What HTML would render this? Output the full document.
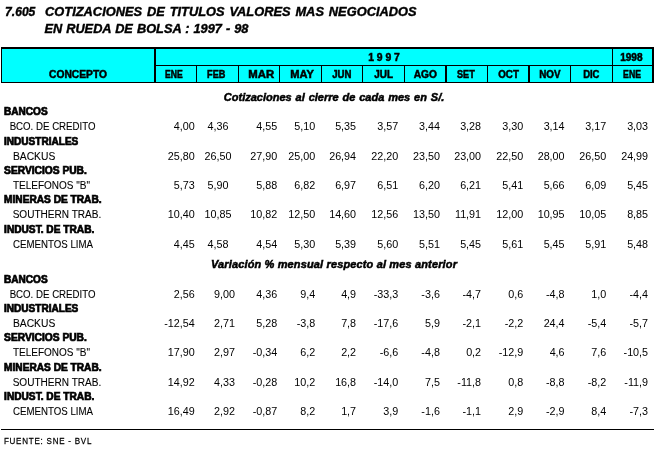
<!DOCTYPE html>
<html lang="es">
<head>
<meta charset="utf-8">
<title>7.605 Cotizaciones de titulos valores mas negociados en rueda de bolsa: 1997 - 98</title>
<style>
html,body{margin:0;padding:0;background:#fff;}
body{width:655px;height:450px;overflow:hidden;}
svg{display:block;}
text{font-family:"Liberation Sans",sans-serif;fill:#000;white-space:pre;stroke:#000;stroke-width:0;}
.b{font-weight:bold;stroke-width:0.7px;}
.t{stroke-width:0.4px;}
.h{stroke-width:0.5px;}
.c{stroke-width:0.5px;}
.f{stroke-width:0.25px;}
.r{stroke-width:0.1px;}
.i{font-style:italic;}
.n{font-size:11px;}
</style>
</head>
<body>
<svg width="655" height="450" viewBox="0 0 655 450">
<g shape-rendering="crispEdges">
<rect x="1" y="47" width="653" height="36" fill="#000"/>
<rect x="2" y="49" width="152" height="33" fill="#00ffff"/>
<rect x="156" y="49" width="456" height="16" fill="#00ffff"/>
<rect x="613" y="49" width="39" height="16" fill="#00ffff"/>
<rect x="156" y="66" width="40" height="16" fill="#00ffff"/>
<rect x="197" y="66" width="41" height="16" fill="#00ffff"/>
<rect x="239" y="66" width="40" height="16" fill="#00ffff"/>
<rect x="280" y="66" width="41" height="16" fill="#00ffff"/>
<rect x="322" y="66" width="40" height="16" fill="#00ffff"/>
<rect x="363" y="66" width="41" height="16" fill="#00ffff"/>
<rect x="405" y="66" width="40" height="16" fill="#00ffff"/>
<rect x="447" y="66" width="40" height="16" fill="#00ffff"/>
<rect x="488" y="66" width="40" height="16" fill="#00ffff"/>
<rect x="530" y="66" width="40" height="16" fill="#00ffff"/>
<rect x="571" y="66" width="41" height="16" fill="#00ffff"/>
<rect x="613" y="66" width="39" height="16" fill="#00ffff"/>
<rect x="1" y="429" width="653" height="1" fill="#000"/>
</g>
<g id="title">
<text class="b i t" font-size="12.709" transform="translate(5.09 15.8) scale(0.952 1)" xml:space="preserve">7.605</text>
<text class="b i t" font-size="12.709" word-spacing="1.3" transform="translate(45.102 15.8) scale(1.011 1)" xml:space="preserve">COTIZACIONES DE TITULOS VALORES MAS NEGOCIADOS</text>
<text class="b i t" font-size="12.709" word-spacing="0.5" transform="translate(44.401 32.8) scale(1.005 1)" xml:space="preserve">EN RUEDA DE BOLSA : 1997 - 98</text>
</g>
<g id="head">
<text class="b h" font-size="10.335" transform="translate(49.048 77.75) scale(0.993 1)" xml:space="preserve">CONCEPTO</text>
<text class="b h" font-size="10.335" transform="translate(368.15 60.75) scale(1.002 1)" xml:space="preserve">1 9 9 7</text>
<text class="b h" font-size="10.335" transform="translate(620.143 60.75) scale(0.973 1)" xml:space="preserve">1998</text>
<text class="b h" font-size="10.335" transform="translate(165.008 77.75) scale(0.833 1)" xml:space="preserve">ENE</text>
<text class="b h" font-size="10.335" transform="translate(207.121 77.75) scale(0.884 1)" xml:space="preserve">FEB</text>
<text class="b h" font-size="10.335" transform="translate(248.275 77.75) scale(1.099 1)" xml:space="preserve">MAR</text>
<text class="b h" font-size="10.335" transform="translate(290.269 77.75) scale(1.075 1)" xml:space="preserve">MAY</text>
<text class="b h" font-size="10.335" transform="translate(332.233 77.75) scale(0.932 1)" xml:space="preserve">JUN</text>
<text class="b h" font-size="10.335" transform="translate(374.241 77.75) scale(0.964 1)" xml:space="preserve">JUL</text>
<text class="b h" font-size="10.335" transform="translate(413.647 77.75) scale(0.988 1)" xml:space="preserve">AGO</text>
<text class="b h" font-size="10.335" transform="translate(457.021 77.75) scale(0.884 1)" xml:space="preserve">SET</text>
<text class="b h" font-size="10.335" transform="translate(498.237 77.75) scale(0.948 1)" xml:space="preserve">OCT</text>
<text class="b h" font-size="10.335" transform="translate(539.238 77.75) scale(0.952 1)" xml:space="preserve">NOV</text>
<text class="b h" font-size="10.335" transform="translate(583.13 77.75) scale(0.919 1)" xml:space="preserve">DIC</text>
<text class="b h" font-size="10.335" transform="translate(623.111 77.75) scale(0.842 1)" xml:space="preserve">ENE</text>
</g>
<g id="cap">
<text class="b i c" font-size="10.754" word-spacing="0.8" transform="translate(223.856 100.75) scale(1.024 1)" xml:space="preserve">Cotizaciones al cierre de cada mes en S/.</text>
<text class="b i c" font-size="10.754" letter-spacing="0.15" transform="translate(210.956 267.75) scale(1.022 1)" xml:space="preserve">Variación % mensual respecto al mes anterior</text>
</g>
<g id="s0g0">
<text class="b" font-size="10.056" transform="translate(4.05 114.65) scale(1.001 1)" xml:space="preserve">BANCOS</text>
</g>
<g id="s0r0">
<text class="r" font-size="11" transform="translate(9.644 129.95) scale(0.88 1)" xml:space="preserve">BCO. DE CREDITO</text>
<text class="n" transform="translate(173.734 130) scale(0.98 1)">4,00</text>
<text class="n" transform="translate(207.467 130) scale(0.98 1)">4,36</text>
<text class="n" transform="translate(256.334 130) scale(0.98 1)">4,55</text>
<text class="n" transform="translate(294.234 130) scale(0.98 1)">5,10</text>
<text class="n" transform="translate(335.134 130) scale(0.98 1)">5,35</text>
<text class="n" transform="translate(377.334 130) scale(0.98 1)">3,57</text>
<text class="n" transform="translate(418.934 130) scale(0.98 1)">3,44</text>
<text class="n" transform="translate(460.134 130) scale(0.98 1)">3,28</text>
<text class="n" transform="translate(502.334 130) scale(0.98 1)">3,30</text>
<text class="n" transform="translate(543.634 130) scale(0.98 1)">3,14</text>
<text class="n" transform="translate(585.234 130) scale(0.98 1)">3,17</text>
<text class="n" transform="translate(627.134 130) scale(0.98 1)">3,03</text>
</g>
<g id="s0g1">
<text class="b" font-size="10.056" transform="translate(4.05 144.65) scale(1 1)" xml:space="preserve">INDUSTRIALES</text>
</g>
<g id="s0r1">
<text class="r" font-size="11" transform="translate(12.947 159.95) scale(0.936 1)" xml:space="preserve">BACKUS</text>
<text class="n" transform="translate(167.739 160) scale(0.98 1)">25,80</text>
<text class="n" transform="translate(204.47 160) scale(0.98 1)">26,50</text>
<text class="n" transform="translate(250.339 160) scale(0.98 1)">27,90</text>
<text class="n" transform="translate(288.239 160) scale(0.98 1)">25,00</text>
<text class="n" transform="translate(329.139 160) scale(0.98 1)">26,94</text>
<text class="n" transform="translate(371.339 160) scale(0.98 1)">22,20</text>
<text class="n" transform="translate(412.939 160) scale(0.98 1)">23,50</text>
<text class="n" transform="translate(454.139 160) scale(0.98 1)">23,00</text>
<text class="n" transform="translate(496.339 160) scale(0.98 1)">22,50</text>
<text class="n" transform="translate(537.639 160) scale(0.98 1)">28,00</text>
<text class="n" transform="translate(579.239 160) scale(0.98 1)">26,50</text>
<text class="n" transform="translate(621.139 160) scale(0.98 1)">24,99</text>
</g>
<g id="s0g2">
<text class="b" font-size="10.056" transform="translate(4.056 173.65) scale(1.017 1)" xml:space="preserve">SERVICIOS PUB.</text>
</g>
<g id="s0r2">
<text class="r" font-size="11" transform="translate(12.946 188.95) scale(0.91 1)" xml:space="preserve">TELEFONOS "B"</text>
<text class="n" transform="translate(173.734 189) scale(0.98 1)">5,73</text>
<text class="n" transform="translate(207.467 189) scale(0.98 1)">5,90</text>
<text class="n" transform="translate(256.334 189) scale(0.98 1)">5,88</text>
<text class="n" transform="translate(294.234 189) scale(0.98 1)">6,82</text>
<text class="n" transform="translate(335.134 189) scale(0.98 1)">6,97</text>
<text class="n" transform="translate(377.334 189) scale(0.98 1)">6,51</text>
<text class="n" transform="translate(418.934 189) scale(0.98 1)">6,20</text>
<text class="n" transform="translate(460.134 189) scale(0.98 1)">6,21</text>
<text class="n" transform="translate(502.334 189) scale(0.98 1)">5,41</text>
<text class="n" transform="translate(543.634 189) scale(0.98 1)">5,66</text>
<text class="n" transform="translate(585.234 189) scale(0.98 1)">6,09</text>
<text class="n" transform="translate(627.134 189) scale(0.98 1)">5,45</text>
</g>
<g id="s0g3">
<text class="b" font-size="10.056" transform="translate(4.053 202.65) scale(1.01 1)" xml:space="preserve">MINERAS DE TRAB.</text>
</g>
<g id="s0r3">
<text class="r" font-size="11" transform="translate(12.646 217.95) scale(0.915 1)" xml:space="preserve">SOUTHERN TRAB.</text>
<text class="n" transform="translate(167.739 218) scale(0.98 1)">10,40</text>
<text class="n" transform="translate(204.47 218) scale(0.98 1)">10,85</text>
<text class="n" transform="translate(250.339 218) scale(0.98 1)">10,82</text>
<text class="n" transform="translate(288.239 218) scale(0.98 1)">12,50</text>
<text class="n" transform="translate(329.139 218) scale(0.98 1)">14,60</text>
<text class="n" transform="translate(371.339 218) scale(0.98 1)">12,56</text>
<text class="n" transform="translate(412.939 218) scale(0.98 1)">13,50</text>
<text class="n" transform="translate(454.939 218) scale(0.98 1)">11,91</text>
<text class="n" transform="translate(496.339 218) scale(0.98 1)">12,00</text>
<text class="n" transform="translate(537.639 218) scale(0.98 1)">10,95</text>
<text class="n" transform="translate(579.239 218) scale(0.98 1)">10,05</text>
<text class="n" transform="translate(627.134 218) scale(0.98 1)">8,85</text>
</g>
<g id="s0g4">
<text class="b" font-size="10.056" transform="translate(4.054 232.65) scale(1.012 1)" xml:space="preserve">INDUST. DE TRAB.</text>
</g>
<g id="s0r4">
<text class="r" font-size="11" transform="translate(12.944 247.95) scale(0.882 1)" xml:space="preserve">CEMENTOS LIMA</text>
<text class="n" transform="translate(173.734 248) scale(0.98 1)">4,45</text>
<text class="n" transform="translate(207.467 248) scale(0.98 1)">4,58</text>
<text class="n" transform="translate(256.334 248) scale(0.98 1)">4,54</text>
<text class="n" transform="translate(294.234 248) scale(0.98 1)">5,30</text>
<text class="n" transform="translate(335.134 248) scale(0.98 1)">5,39</text>
<text class="n" transform="translate(377.334 248) scale(0.98 1)">5,60</text>
<text class="n" transform="translate(418.934 248) scale(0.98 1)">5,51</text>
<text class="n" transform="translate(460.134 248) scale(0.98 1)">5,45</text>
<text class="n" transform="translate(502.334 248) scale(0.98 1)">5,61</text>
<text class="n" transform="translate(543.634 248) scale(0.98 1)">5,45</text>
<text class="n" transform="translate(585.234 248) scale(0.98 1)">5,91</text>
<text class="n" transform="translate(627.134 248) scale(0.98 1)">5,48</text>
</g>
<g id="s1g0">
<text class="b" font-size="10.056" transform="translate(4.05 282.65) scale(1.001 1)" xml:space="preserve">BANCOS</text>
</g>
<g id="s1r0">
<text class="r" font-size="11" transform="translate(9.644 297.95) scale(0.88 1)" xml:space="preserve">BCO. DE CREDITO</text>
<text class="n" transform="translate(173.734 298) scale(0.98 1)">2,56</text>
<text class="n" transform="translate(213.934 298) scale(0.98 1)">9,00</text>
<text class="n" transform="translate(256.334 298) scale(0.98 1)">4,36</text>
<text class="n" transform="translate(300.23 298) scale(0.98 1)">9,4</text>
<text class="n" transform="translate(341.13 298) scale(0.98 1)">4,9</text>
<text class="n" transform="translate(373.745 298) scale(0.98 1)">-33,3</text>
<text class="n" transform="translate(421.34 298) scale(0.98 1)">-3,6</text>
<text class="n" transform="translate(462.54 298) scale(0.98 1)">-4,7</text>
<text class="n" transform="translate(508.33 298) scale(0.98 1)">0,6</text>
<text class="n" transform="translate(546.04 298) scale(0.98 1)">-4,8</text>
<text class="n" transform="translate(591.23 298) scale(0.98 1)">1,0</text>
<text class="n" transform="translate(629.54 298) scale(0.98 1)">-4,4</text>
</g>
<g id="s1g1">
<text class="b" font-size="10.056" transform="translate(4.05 311.65) scale(1 1)" xml:space="preserve">INDUSTRIALES</text>
</g>
<g id="s1r1">
<text class="r" font-size="11" transform="translate(12.947 326.95) scale(0.936 1)" xml:space="preserve">BACKUS</text>
<text class="n" transform="translate(164.149 327) scale(0.98 1)">-12,54</text>
<text class="n" transform="translate(213.934 327) scale(0.98 1)">2,71</text>
<text class="n" transform="translate(256.334 327) scale(0.98 1)">5,28</text>
<text class="n" transform="translate(296.64 327) scale(0.98 1)">-3,8</text>
<text class="n" transform="translate(341.13 327) scale(0.98 1)">7,8</text>
<text class="n" transform="translate(373.745 327) scale(0.98 1)">-17,6</text>
<text class="n" transform="translate(424.93 327) scale(0.98 1)">5,9</text>
<text class="n" transform="translate(462.54 327) scale(0.98 1)">-2,1</text>
<text class="n" transform="translate(504.74 327) scale(0.98 1)">-2,2</text>
<text class="n" transform="translate(543.634 327) scale(0.98 1)">24,4</text>
<text class="n" transform="translate(587.64 327) scale(0.98 1)">-5,4</text>
<text class="n" transform="translate(629.54 327) scale(0.98 1)">-5,7</text>
</g>
<g id="s1g2">
<text class="b" font-size="10.056" transform="translate(4.056 340.65) scale(1.017 1)" xml:space="preserve">SERVICIOS PUB.</text>
</g>
<g id="s1r2">
<text class="r" font-size="11" transform="translate(12.946 355.95) scale(0.91 1)" xml:space="preserve">TELEFONOS "B"</text>
<text class="n" transform="translate(167.739 356) scale(0.98 1)">17,90</text>
<text class="n" transform="translate(213.934 356) scale(0.98 1)">2,97</text>
<text class="n" transform="translate(252.745 356) scale(0.98 1)">-0,34</text>
<text class="n" transform="translate(300.23 356) scale(0.98 1)">6,2</text>
<text class="n" transform="translate(341.13 356) scale(0.98 1)">2,2</text>
<text class="n" transform="translate(379.74 356) scale(0.98 1)">-6,6</text>
<text class="n" transform="translate(421.34 356) scale(0.98 1)">-4,8</text>
<text class="n" transform="translate(466.13 356) scale(0.98 1)">0,2</text>
<text class="n" transform="translate(498.745 356) scale(0.98 1)">-12,9</text>
<text class="n" transform="translate(549.63 356) scale(0.98 1)">4,6</text>
<text class="n" transform="translate(591.23 356) scale(0.98 1)">7,6</text>
<text class="n" transform="translate(623.545 356) scale(0.98 1)">-10,5</text>
</g>
<g id="s1g3">
<text class="b" font-size="10.056" transform="translate(4.053 370.65) scale(1.01 1)" xml:space="preserve">MINERAS DE TRAB.</text>
</g>
<g id="s1r3">
<text class="r" font-size="11" transform="translate(12.646 385.95) scale(0.915 1)" xml:space="preserve">SOUTHERN TRAB.</text>
<text class="n" transform="translate(167.739 386) scale(0.98 1)">14,92</text>
<text class="n" transform="translate(213.934 386) scale(0.98 1)">4,33</text>
<text class="n" transform="translate(252.745 386) scale(0.98 1)">-0,28</text>
<text class="n" transform="translate(294.234 386) scale(0.98 1)">10,2</text>
<text class="n" transform="translate(335.134 386) scale(0.98 1)">16,8</text>
<text class="n" transform="translate(373.745 386) scale(0.98 1)">-14,0</text>
<text class="n" transform="translate(424.93 386) scale(0.98 1)">7,5</text>
<text class="n" transform="translate(457.345 386) scale(0.98 1)">-11,8</text>
<text class="n" transform="translate(508.33 386) scale(0.98 1)">0,8</text>
<text class="n" transform="translate(546.04 386) scale(0.98 1)">-8,8</text>
<text class="n" transform="translate(587.64 386) scale(0.98 1)">-8,2</text>
<text class="n" transform="translate(624.345 386) scale(0.98 1)">-11,9</text>
</g>
<g id="s1g4">
<text class="b" font-size="10.056" transform="translate(4.054 399.65) scale(1.012 1)" xml:space="preserve">INDUST. DE TRAB.</text>
</g>
<g id="s1r4">
<text class="r" font-size="11" transform="translate(12.944 414.95) scale(0.882 1)" xml:space="preserve">CEMENTOS LIMA</text>
<text class="n" transform="translate(167.739 415) scale(0.98 1)">16,49</text>
<text class="n" transform="translate(213.934 415) scale(0.98 1)">2,92</text>
<text class="n" transform="translate(252.745 415) scale(0.98 1)">-0,87</text>
<text class="n" transform="translate(300.23 415) scale(0.98 1)">8,2</text>
<text class="n" transform="translate(341.13 415) scale(0.98 1)">1,7</text>
<text class="n" transform="translate(383.33 415) scale(0.98 1)">3,9</text>
<text class="n" transform="translate(421.34 415) scale(0.98 1)">-1,6</text>
<text class="n" transform="translate(462.54 415) scale(0.98 1)">-1,1</text>
<text class="n" transform="translate(508.33 415) scale(0.98 1)">2,9</text>
<text class="n" transform="translate(546.04 415) scale(0.98 1)">-2,9</text>
<text class="n" transform="translate(591.23 415) scale(0.98 1)">8,4</text>
<text class="n" transform="translate(629.54 415) scale(0.98 1)">-7,3</text>
</g>
<g id="foot">
<text class="f" font-size="9.6" letter-spacing="0.9" transform="translate(3.905 443.875) scale(0.838 1)" xml:space="preserve">FUENTE: SNE - BVL</text>
</g>
</svg>
</body>
</html>
